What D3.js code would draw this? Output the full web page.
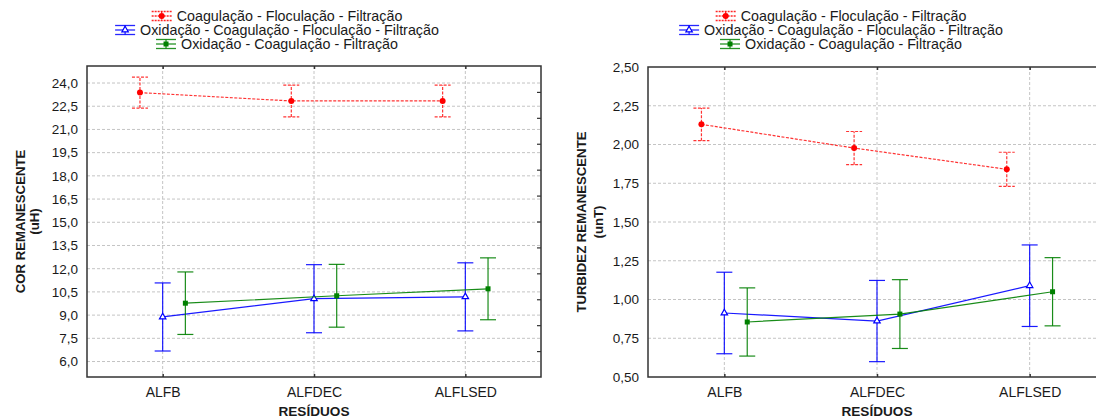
<!DOCTYPE html>
<html><head><meta charset="utf-8">
<script src="https://cdn.jsdelivr.net/npm/d3@7"></script>
<style>
body{margin:0;background:#fff;}
svg{display:block;font-family:"Liberation Sans",Arial,Helvetica,sans-serif;}
</style>
</head><body>
<svg id="c" width="1096" height="419"></svg>
<script>
// ---------- DATA ----------
const categories = ["ALFB", "ALFDEC", "ALFLSED"];
const seriesNames = [
  "Coagulação - Floculação - Filtração",
  "Oxidação - Coagulação - Floculação - Filtração",
  "Oxidação - Coagulação - Filtração"
];
// Cor remanescente (uH)
const corCFF = [23.38, 22.84, 22.84];
const corCFFErr = [1.0, 1.03, 1.03];
const corOCFF = [8.88, 10.06, 10.18];
const corOCFFErr = [2.2, 2.2, 2.2];
const corOCF = [9.77, 10.25, 10.70];
const corOCFErr = [2.02, 2.03, 2.0];
const corTicks = [6.0, 7.5, 9.0, 10.5, 12.0, 13.5, 15.0, 16.5, 18.0, 19.5, 21.0, 22.5, 24.0];
// Turbidez remanescente (unT)
const turbCFF = [2.13, 1.977, 1.84];
const turbCFFErr = [0.105, 0.107, 0.11];
const turbOCFF = [0.913, 0.861, 1.089];
const turbOCFFErr = [0.263, 0.262, 0.263];
const turbOCF = [0.855, 0.906, 1.05];
const turbOCFErr = [0.22, 0.222, 0.22];
const turbTicks = [0.50, 0.75, 1.00, 1.25, 1.50, 1.75, 2.00, 2.25, 2.50];

// ---------- STYLE ----------
const colors = ["#ff0000", "#0000ff", "#008000"];
const dashes = ["3,1.5", null, null];
const markers = ["circle", "triangle", "square"];
const offsets = [-0.15, 0, 0.15];
const textColor = "#1a1a1a";

const svg = d3.select("#c");

function drawMarker(sel, type, color) {
  if (type === "circle") {
    sel.append("circle").attr("r", 3).attr("fill", color);
  } else if (type === "triangle") {
    sel.append("path").attr("d", d3.symbol(d3.symbolTriangle, 18)())
      .attr("fill", "#fff").attr("stroke", color).attr("stroke-width", 1.2);
  } else {
    sel.append("rect").attr("x", -2.5).attr("y", -2.5).attr("width", 5).attr("height", 5).attr("fill", color);
  }
}

function panel(cfg) {
  const {x0, x1, y0, y1, domain, ticks, fmt, means, errs, title, unit, tX1, tX2, legendCX, extraTicks} = cfg;
  const x = d3.scalePoint().domain(categories).range([x0, x1]).padding(0.5);
  const y = d3.scaleLinear().domain(domain).range([y1, y0]);
  const g = svg.append("g");

  // horizontal grid
  g.append("g").selectAll("line").data(ticks.filter(t => y(t) > y0 + 1 && y(t) < y1 - 1)).join("line")
    .attr("x1", x0).attr("x2", x1).attr("y1", d => y(d)).attr("y2", d => y(d))
    .attr("stroke", "#c4c4c4").attr("stroke-dasharray", "3,2").attr("stroke-width", 1);
  // vertical grid
  g.append("g").selectAll("line").data(categories).join("line")
    .attr("x1", d => x(d)).attr("x2", d => x(d)).attr("y1", y0).attr("y2", y1)
    .attr("stroke", "#c4c4c4").attr("stroke-dasharray", "3,2").attr("stroke-width", 1);

  // y axis labels
  const ya = g.append("g").attr("transform", `translate(${x0},0)`)
    .call(d3.axisLeft(y).tickValues(ticks).tickFormat(fmt).tickSize(0).tickPadding(9));
  ya.select(".domain").remove();
  ya.selectAll("text").attr("font-size", "13.5px").attr("fill", textColor).attr("font-family", null);

  // x axis labels
  const xa = g.append("g").attr("transform", `translate(0,${y1})`)
    .call(d3.axisBottom(x).tickSize(0).tickPadding(10));
  xa.select(".domain").remove();
  xa.selectAll("text").attr("font-size", "14px").attr("fill", textColor).attr("font-family", null);

  // inward ticks top & bottom at categories
  const ta = g.append("g").attr("transform", `translate(0,${y0})`)
    .call(d3.axisBottom(x).tickSize(3).tickFormat(""));
  ta.select(".domain").remove();
  ta.selectAll("line").attr("stroke", "#333").attr("stroke-width", 1.5);
  const ba = g.append("g").attr("transform", `translate(0,${y1})`)
    .call(d3.axisTop(x).tickSize(3).tickFormat(""));
  ba.select(".domain").remove();
  ba.selectAll("line").attr("stroke", "#333").attr("stroke-width", 1.5);

  if (extraTicks) {
    const y2 = d3.scaleLinear().domain([0, 12]).range([y1, y0]);
    const ra = g.append("g").attr("transform", `translate(${x1},0)`)
      .call(d3.axisLeft(y2).tickValues(d3.range(1, 12)).tickSize(4).tickFormat(""));
    ra.select(".domain").remove();
    ra.selectAll("line").attr("stroke", "#333").attr("stroke-width", 1.2);
  }

  // series
  means.forEach((vals, si) => {
    const off = offsets[si] * x.step();
    const px = i => x(categories[i]) + off;
    const sg = g.append("g");
    sg.append("path")
      .attr("d", d3.line().x((d, i) => px(i)).y(d => y(d))(vals))
      .attr("fill", "none").attr("stroke", colors[si]).attr("stroke-width", 1.2)
      .attr("stroke-dasharray", dashes[si]).attr("stroke-opacity", si === 0 ? 0.8 : 0.9);
    vals.forEach((v, i) => {
      const e = errs[si][i];
      const eb = sg.append("g").attr("stroke", colors[si]).attr("stroke-width", 1.2)
        .attr("stroke-dasharray", dashes[si]).attr("stroke-opacity", si === 0 ? 0.8 : 0.9);
      eb.append("line").attr("x1", px(i)).attr("x2", px(i)).attr("y1", y(v - e)).attr("y2", y(v + e));
      eb.append("line").attr("x1", px(i) - 8).attr("x2", px(i) + 8).attr("y1", y(v + e)).attr("y2", y(v + e));
      eb.append("line").attr("x1", px(i) - 8).attr("x2", px(i) + 8).attr("y1", y(v - e)).attr("y2", y(v - e));
      drawMarker(sg.append("g").attr("transform", `translate(${px(i)},${y(v)})`), markers[si], colors[si]);
    });
  });

  // frame
  g.append("rect").attr("x", x0).attr("y", y0).attr("width", x1 - x0).attr("height", y1 - y0)
    .attr("fill", "none").attr("stroke", "#333").attr("stroke-width", 1.5);

  // axis titles
  const cy = (y0 + y1) / 2;
  g.append("text").attr("transform", `translate(${tX1},${cy}) rotate(-90)`)
    .attr("text-anchor", "middle").attr("dy", "0.35em").attr("font-weight", "bold")
    .attr("font-size", "13.2px").attr("fill", textColor).text(title);
  g.append("text").attr("transform", `translate(${tX2},${cy}) rotate(-90)`)
    .attr("text-anchor", "middle").attr("dy", "0.35em").attr("font-weight", "bold")
    .attr("font-size", "13.2px").attr("fill", textColor).text(unit);
  g.append("text").attr("x", (x0 + x1) / 2).attr("y", 416)
    .attr("text-anchor", "middle").attr("font-weight", "bold")
    .attr("font-size", "13.6px").attr("fill", textColor).text("RESÍDUOS");

  // legend
  const rowY = [21, 35, 49];
  seriesNames.forEach((name, si) => {
    const lg = g.append("g");
    const t = lg.append("text").attr("x", 25).attr("y", rowY[si]).attr("font-size", "14.3px")
      .attr("fill", textColor).text(name);
    const cyL = rowY[si] - 5;
    const s = lg.append("g").attr("stroke", colors[si]).attr("stroke-width", 1.3)
      .attr("stroke-dasharray", si === 0 ? "2,1" : null).attr("stroke-opacity", 0.85);
    s.append("line").attr("x1", 0).attr("x2", 20).attr("y1", cyL - 4.5).attr("y2", cyL - 4.5);
    s.append("line").attr("x1", 0).attr("x2", 20).attr("y1", cyL + 4.5).attr("y2", cyL + 4.5);
    s.append("line").attr("x1", 0).attr("x2", 20).attr("y1", cyL).attr("y2", cyL);
    s.append("line").attr("x1", 10).attr("x2", 10).attr("y1", cyL - 4.5).attr("y2", cyL + 4.5);
    drawMarker(lg.append("g").attr("transform", `translate(10,${cyL})`), markers[si], colors[si]);
    const w = 25 + t.node().getComputedTextLength();
    lg.attr("transform", `translate(${legendCX - w / 2},0)`);
  });
}

const fmt1 = d => d3.format(".1f")(d).replace(".", ",");
const fmt2 = d => d3.format(".2f")(d).replace(".", ",");

panel({
  x0: 87, x1: 541, y0: 66, y1: 377, domain: [5.0, 25.1], ticks: corTicks, fmt: fmt1,
  means: [corCFF, corOCFF, corOCF], errs: [corCFFErr, corOCFFErr, corOCFErr],
  title: "COR REMANESCENTE", unit: "(uH)", tX1: 20, tX2: 34, legendCX: 277, extraTicks: true
});
panel({
  x0: 648, x1: 1106, y0: 67, y1: 377, domain: [0.5, 2.5], ticks: turbTicks, fmt: fmt2,
  means: [turbCFF, turbOCFF, turbOCF], errs: [turbCFFErr, turbOCFFErr, turbOCFErr],
  title: "TURBIDEZ REMANESCENTE", unit: "(unT)", tX1: 581, tX2: 598, legendCX: 841, extraTicks: false
});
</script>
</body></html>
